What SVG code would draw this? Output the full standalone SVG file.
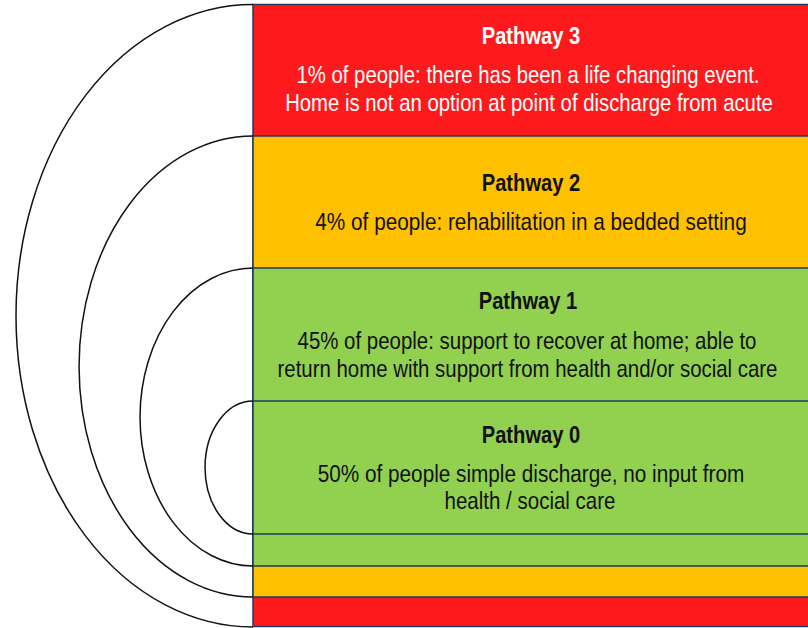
<svg xmlns="http://www.w3.org/2000/svg" width="808" height="628" viewBox="0 0 808 628">
  <style>
    .band { stroke: #1f3a60; stroke-width: 1.5; }
    .arc { fill: none; stroke: #111111; stroke-width: 1.5; }
    text { font-family: "Liberation Sans", Arial, sans-serif; font-size: 24px; text-anchor: middle; }
    .title { font-weight: bold; }
    .light { fill: #ffffff; }
    .dark { fill: #111111; }
  </style>
  <rect width="808" height="628" fill="#ffffff"/>

  <!-- Pathway 3: outermost band and arc -->
  <g id="pathway3">
    <rect class="band" x="253" y="4.5" width="556" height="622" fill="#fe1a1c"/>
    <path class="arc" d="M253,4.5 A237,311.25 0 0 0 253,627"/>
    <text class="title light" transform="translate(531 44) scale(0.84 1)">Pathway 3</text>
    <text class="light" transform="translate(528 83) scale(0.847 1)">1% of people: there has been a life changing event.</text>
    <text class="light" transform="translate(529 111) scale(0.847 1)">Home is not an option at point of discharge from acute</text>
  </g>

  <!-- Pathway 2 -->
  <g id="pathway2">
    <rect class="band" x="253" y="136" width="556" height="461" fill="#ffc000"/>
    <path class="arc" d="M253,136 A174,230.5 0 0 0 253,597"/>
    <text class="title dark" transform="translate(531 191) scale(0.84 1)">Pathway 2</text>
    <text class="dark" transform="translate(531 230) scale(0.865 1)">4% of people: rehabilitation in a bedded setting</text>
  </g>

  <!-- Pathway 1 -->
  <g id="pathway1">
    <rect class="band" x="253" y="268" width="556" height="298" fill="#92d050"/>
    <path class="arc" d="M253,268 A113,149 0 0 0 253,566"/>
    <text class="title dark" transform="translate(528 309) scale(0.84 1)">Pathway 1</text>
    <text class="dark" transform="translate(527 349) scale(0.852 1)">45% of people: support to recover at home; able to</text>
    <text class="dark" transform="translate(527.5 377) scale(0.85 1)">return home with support from health and/or social care</text>
  </g>

  <!-- Pathway 0: innermost band and arc -->
  <g id="pathway0">
    <rect class="band" x="253" y="401" width="556" height="133" fill="#92d050"/>
    <path class="arc" d="M253,401 A48,66.5 0 0 0 253,534"/>
    <text class="title dark" transform="translate(531 443) scale(0.84 1)">Pathway 0</text>
    <text class="dark" transform="translate(531 482) scale(0.865 1)">50% of people simple discharge, no input from</text>
    <text class="dark" transform="translate(530 509) scale(0.855 1)">health / social care</text>
  </g>
</svg>
